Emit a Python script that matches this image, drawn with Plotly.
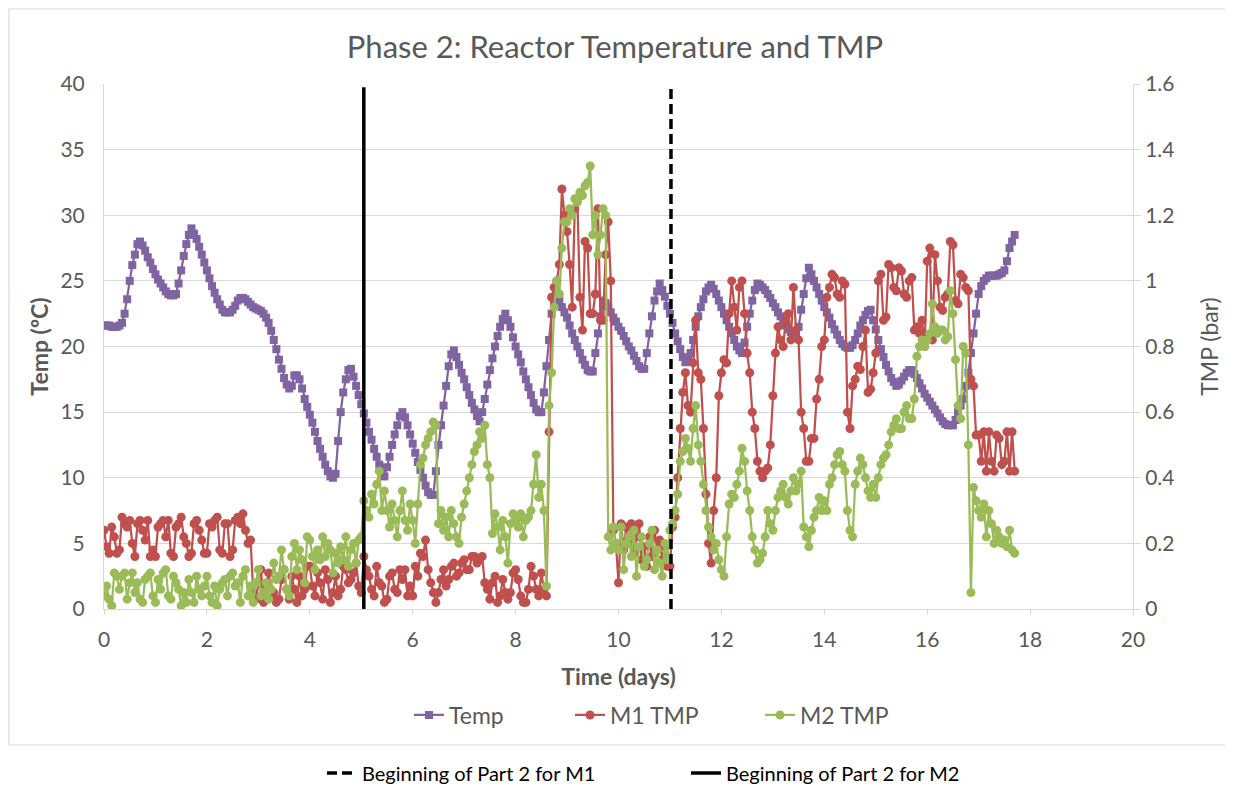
import plotly.graph_objects as go

# ---------------- data ----------------
days = [round(i * 0.05, 2) for i in range(355)]  # 0.00 ... 17.70 days

temp = [
    21.6, 21.6, 21.6, 21.5, 21.5, 21.5, 21.6, 21.8, 22.5, 23.6, 25.0, 26.2, 27.0, 27.8, 28.0, 27.7, 27.3, 26.8, 26.4, 25.9,
    25.5, 25.1, 24.8, 24.5, 24.2, 24.0, 23.9, 23.9, 24.0, 24.8, 25.8, 26.9, 27.8, 28.5, 29.0, 28.6, 28.2, 27.6, 27.0, 26.4,
    25.8, 25.2, 24.6, 24.1, 23.6, 23.2, 22.8, 22.6, 22.6, 22.6, 22.8, 23.1, 23.5, 23.7, 23.7, 23.6, 23.4, 23.2, 23.0, 22.9,
    22.8, 22.7, 22.5, 22.2, 21.8, 21.2, 20.5, 19.8, 19.0, 18.3, 17.6, 17.1, 16.8, 17.0, 17.8, 17.8, 17.5, 16.8, 16.0, 15.4,
    14.8, 14.2, 13.5, 12.8, 12.2, 11.6, 11.0, 10.5, 10.1, 10.0, 10.3, 12.8, 15.0, 16.5, 17.5, 18.2, 18.3, 17.7, 17.0, 16.3,
    15.6, 14.9, 14.2, 13.5, 12.9, 12.2, 11.6, 11.0, 10.4, 10.1, 10.8, 11.6, 12.5, 13.3, 14.0, 14.7, 15.0, 14.6, 14.0, 13.3,
    12.6, 11.9, 11.2, 10.6, 10.0, 9.4, 8.9, 8.7, 8.7, 10.5, 12.5, 14.0, 15.5, 17.0, 18.5, 19.4, 19.7, 19.2, 18.6, 18.0,
    17.5, 16.9, 16.3, 15.7, 15.2, 14.7, 14.3, 15.0, 16.0, 17.1, 18.2, 19.1, 20.0, 20.8, 21.5, 22.1, 22.5, 22.0, 21.5, 20.7,
    20.0, 19.4, 18.8, 18.1, 17.5, 16.9, 16.3, 15.7, 15.2, 15.0, 15.0, 16.5, 18.5, 20.5, 22.5, 23.4, 24.0, 23.5, 23.0, 22.6,
    22.2, 21.6, 21.0, 20.5, 20.0, 19.5, 19.0, 18.6, 18.2, 18.1, 18.1, 19.5, 21.0, 22.3, 23.5, 23.3, 23.0, 22.6, 22.2, 21.9,
    21.5, 21.2, 20.8, 20.4, 20.0, 19.7, 19.3, 18.9, 18.5, 18.3, 18.3, 19.5, 21.0, 22.3, 23.5, 24.2, 24.8, 24.3, 23.8, 23.1,
    22.5, 21.8, 21.0, 20.4, 19.8, 19.2, 18.8, 18.9, 19.5, 20.5, 21.5, 22.3, 23.0, 23.6, 24.2, 24.5, 24.7, 24.4, 24.0, 23.5,
    23.0, 22.5, 22.0, 21.5, 21.0, 20.5, 20.0, 19.7, 19.5, 20.3, 21.5, 22.5, 23.5, 24.3, 24.8, 24.7, 24.5, 24.3, 24.0, 23.7,
    23.3, 23.0, 22.6, 22.3, 21.9, 21.6, 21.3, 21.1, 21.0, 21.1, 21.5, 22.8, 24.0, 25.2, 26.0, 25.5, 25.0, 24.5, 24.0, 23.5,
    23.0, 22.6, 22.2, 21.7, 21.3, 20.9, 20.5, 20.2, 20.0, 19.9, 19.9, 20.1, 20.5, 21.0, 21.6, 22.0, 22.4, 22.7, 22.8, 22.0,
    21.3, 20.5, 19.8, 19.2, 18.6, 18.1, 17.6, 17.3, 17.0, 17.1, 17.4, 17.7, 18.0, 18.2, 18.2, 17.9, 17.6, 17.2, 16.8, 16.4,
    16.1, 15.8, 15.5, 15.2, 14.9, 14.6, 14.3, 14.1, 14.0, 14.0, 14.0, 14.4, 15.0, 15.5, 16.0, 17.0, 18.0, 19.5, 21.0, 22.5,
    24.0, 24.6, 25.0, 25.2, 25.4, 25.4, 25.4, 25.4, 25.5, 25.6, 25.8, 26.5, 27.5, 28.0, 28.5,
]

m1_tmp = [
    0.24, 0.19, 0.17, 0.25, 0.22, 0.17, 0.18, 0.28, 0.26, 0.25, 0.27, 0.20, 0.16, 0.26, 0.27, 0.24, 0.21, 0.27, 0.16, 0.18,
    0.16, 0.25, 0.26, 0.27, 0.22, 0.27, 0.17, 0.16, 0.25, 0.26, 0.28, 0.22, 0.20, 0.16, 0.17, 0.26, 0.27, 0.24, 0.21, 0.17,
    0.17, 0.26, 0.25, 0.27, 0.28, 0.18, 0.17, 0.26, 0.26, 0.16, 0.18, 0.27, 0.28, 0.26, 0.29, 0.24, 0.20, 0.21, 0.05, 0.03,
    0.08, 0.12, 0.02, 0.06, 0.11, 0.04, 0.05, 0.02, 0.03, 0.09, 0.12, 0.06, 0.03, 0.10, 0.06, 0.02, 0.10, 0.04, 0.06, 0.13,
    0.13, 0.07, 0.04, 0.11, 0.08, 0.03, 0.12, 0.09, 0.02, 0.05, 0.10, 0.04, 0.06, 0.13, 0.12, 0.08, 0.09, 0.11, 0.14, 0.07,
    0.05, 0.16, 0.12, 0.10, 0.06, 0.04, 0.13, 0.08, 0.07, 0.02, 0.03, 0.10, 0.11, 0.06, 0.05, 0.12, 0.09, 0.12, 0.04, 0.07,
    0.04, 0.13, 0.10, 0.17, 0.16, 0.21, 0.12, 0.08, 0.05, 0.02, 0.05, 0.09, 0.12, 0.07, 0.09, 0.13, 0.14, 0.10, 0.11, 0.14,
    0.15, 0.12, 0.12, 0.16, 0.16, 0.14, 0.15, 0.16, 0.08, 0.06, 0.03, 0.08, 0.10, 0.02, 0.04, 0.09, 0.05, 0.03, 0.05, 0.11,
    0.12, 0.09, 0.04, 0.02, 0.02, 0.06, 0.13, 0.10, 0.06, 0.04, 0.11, 0.06, 0.04, 0.54, 0.95, 0.98, 1.00, 1.05, 1.28, 1.20,
    1.15, 1.05, 0.92, 1.22, 1.25, 0.95, 0.85, 1.12, 1.10, 0.90, 0.90, 0.96, 1.22, 0.88, 0.88, 1.08, 1.18, 1.00, 0.24, 0.20,
    0.08, 0.26, 0.18, 0.25, 0.20, 0.26, 0.17, 0.22, 0.26, 0.15, 0.19, 0.13, 0.22, 0.16, 0.24, 0.18, 0.21, 0.15, 0.19, 0.13,
    0.13, 0.25, 0.28, 0.40, 0.55, 0.66, 0.72, 0.62, 0.60, 0.75, 0.88, 0.72, 0.70, 0.55, 0.35, 0.20, 0.14, 0.30, 0.40, 0.65,
    0.72, 0.76, 0.75, 0.90, 1.00, 0.92, 0.85, 0.98, 1.00, 0.90, 0.78, 0.72, 0.60, 0.55, 0.45, 0.42, 0.40, 0.42, 0.43, 0.50,
    0.65, 0.78, 0.86, 0.82, 0.80, 0.88, 0.90, 0.82, 0.98, 0.85, 0.82, 0.60, 0.55, 0.45, 0.45, 0.52, 0.52, 0.64, 0.70, 0.80,
    0.82, 0.95, 0.98, 1.02, 1.01, 0.96, 0.95, 1.00, 0.99, 0.60, 0.55, 0.68, 0.70, 0.74, 0.73, 0.80, 0.85, 0.66, 0.67, 0.72,
    0.78, 1.00, 1.02, 0.88, 0.89, 1.05, 1.04, 0.98, 0.97, 1.04, 1.03, 0.96, 0.95, 1.00, 1.01, 0.85, 0.86, 0.84, 0.88, 0.80,
    1.06, 1.10, 0.82, 1.08, 1.00, 0.92, 0.91, 0.95, 0.96, 1.12, 1.11, 0.94, 0.93, 1.02, 1.01, 0.98, 0.97, 0.70, 0.68, 0.53,
    0.53, 0.45, 0.54, 0.42, 0.54, 0.45, 0.42, 0.53, 0.52, 0.44, 0.45, 0.54, 0.42, 0.54, 0.42,
]

m2_tmp = [
    0.04, 0.07, 0.03, 0.01, 0.11, 0.10, 0.06, 0.10, 0.11, 0.03, 0.08, 0.11, 0.05, 0.08, 0.03, 0.02, 0.09, 0.10, 0.11, 0.04,
    0.02, 0.09, 0.06, 0.11, 0.12, 0.04, 0.03, 0.10, 0.08, 0.06, 0.01, 0.05, 0.02, 0.09, 0.05, 0.02, 0.10, 0.06, 0.04, 0.07,
    0.10, 0.04, 0.02, 0.07, 0.01, 0.06, 0.08, 0.09, 0.04, 0.10, 0.11, 0.07, 0.08, 0.02, 0.10, 0.12, 0.04, 0.07, 0.02, 0.08,
    0.12, 0.04, 0.05, 0.08, 0.03, 0.06, 0.14, 0.09, 0.10, 0.18, 0.12, 0.06, 0.04, 0.16, 0.20, 0.12, 0.18, 0.15, 0.08, 0.22,
    0.21, 0.16, 0.12, 0.18, 0.15, 0.22, 0.16, 0.20, 0.18, 0.11, 0.17, 0.14, 0.19, 0.15, 0.22, 0.13, 0.18, 0.20, 0.14, 0.21,
    0.22, 0.33, 0.30, 0.28, 0.35, 0.32, 0.38, 0.42, 0.30, 0.36, 0.30, 0.25, 0.32, 0.27, 0.22, 0.30, 0.36, 0.27, 0.24, 0.32,
    0.27, 0.20, 0.32, 0.44, 0.46, 0.50, 0.52, 0.54, 0.57, 0.56, 0.26, 0.30, 0.24, 0.28, 0.22, 0.30, 0.26, 0.22, 0.20, 0.28,
    0.32, 0.36, 0.40, 0.44, 0.48, 0.50, 0.54, 0.52, 0.56, 0.44, 0.40, 0.23, 0.29, 0.25, 0.18, 0.27, 0.22, 0.14, 0.26, 0.29,
    0.27, 0.25, 0.29, 0.22, 0.27, 0.28, 0.30, 0.38, 0.47, 0.34, 0.38, 0.30, 0.07, 0.62, 0.72, 0.92, 1.00, 0.96, 1.10, 1.18,
    1.18, 1.22, 1.20, 1.25, 1.24, 1.27, 1.26, 1.29, 1.30, 1.35, 1.14, 1.20, 1.08, 1.14, 1.22, 1.20, 0.22, 0.18, 0.25, 0.20,
    0.18, 0.25, 0.12, 0.20, 0.22, 0.16, 0.24, 0.10, 0.19, 0.22, 0.13, 0.15, 0.20, 0.24, 0.12, 0.18, 0.14, 0.10, 0.20, 0.15,
    0.24, 0.26, 0.30, 0.35, 0.45, 0.48, 0.52, 0.49, 0.45, 0.55, 0.62, 0.50, 0.45, 0.38, 0.30, 0.25, 0.22, 0.18, 0.20, 0.15,
    0.12, 0.10, 0.22, 0.32, 0.35, 0.34, 0.38, 0.42, 0.49, 0.45, 0.36, 0.30, 0.22, 0.18, 0.14, 0.15, 0.17, 0.22, 0.30, 0.26,
    0.24, 0.30, 0.34, 0.36, 0.38, 0.34, 0.32, 0.36, 0.40, 0.36, 0.38, 0.42, 0.25, 0.22, 0.19, 0.24, 0.28, 0.30, 0.34, 0.30,
    0.33, 0.30, 0.38, 0.40, 0.44, 0.47, 0.48, 0.44, 0.42, 0.30, 0.24, 0.22, 0.38, 0.42, 0.46, 0.44, 0.40, 0.36, 0.34, 0.38,
    0.34, 0.40, 0.44, 0.46, 0.47, 0.50, 0.54, 0.56, 0.58, 0.55, 0.55, 0.60, 0.62, 0.58, 0.58, 0.64, 0.77, 0.80, 0.82, 0.80,
    0.82, 0.84, 0.93, 0.86, 0.84, 0.85, 0.85, 0.82, 0.83, 0.97, 0.90, 0.76, 0.62, 0.58, 0.80, 0.78, 0.50, 0.05, 0.37, 0.33,
    0.30, 0.28, 0.32, 0.22, 0.30, 0.26, 0.20, 0.24, 0.22, 0.20, 0.21, 0.19, 0.24, 0.18, 0.17,
]

part2_m2_day = 5.05    # solid line
part2_m1_day = 11.02   # dashed line
marker_line_span = [0, 1.59]  # TMP-axis extent of the vertical markers

x_ticks = list(range(0, 21, 2))

# ---------------- style ----------------
PURPLE = "#8064A2"
RED = "#C0504D"
GREEN = "#9BBB59"
GREY_TXT = "#595959"
GRID = "#D9D9D9"
FONT = "Lato, 'Open Sans', sans-serif"

# The page body has an 8px margin, so the figure is drawn 8px smaller and
# shifted; plot area sits at page x 104..1133, y 84..609.
W, H = 1225, 781
ML, MT = 96, 76
PW, PH = 1029, 525


def px_x(page_x):
    return (page_x - 104) / PW


def px_y(page_y):
    return (609 - page_y) / PH


fig = go.Figure()

fig.add_trace(go.Scatter(
    x=days, y=temp, name="Temp", mode="lines+markers",
    line=dict(color=PURPLE, width=2.25),
    marker=dict(symbol="square", size=8, color=PURPLE),
    yaxis="y", legend="legend", showlegend=True,
))
fig.add_trace(go.Scatter(
    x=days, y=m1_tmp, name="M1 TMP", mode="lines+markers",
    line=dict(color=RED, width=2.25),
    marker=dict(symbol="circle", size=9, color=RED),
    yaxis="y2", legend="legend3", showlegend=True,
))
fig.add_trace(go.Scatter(
    x=days, y=m2_tmp, name="M2 TMP", mode="lines+markers",
    line=dict(color=GREEN, width=2.25),
    marker=dict(symbol="circle", size=9, color=GREEN),
    yaxis="y2", legend="legend4", showlegend=True,
))
fig.add_trace(go.Scatter(
    x=[part2_m1_day, part2_m1_day], y=marker_line_span,
    name="Beginning of Part 2 for M1", mode="lines",
    line=dict(color="black", width=3.5, dash="10px,5px"),
    yaxis="y2", legend="legend2", showlegend=True,
))
fig.add_trace(go.Scatter(
    x=[part2_m2_day, part2_m2_day], y=marker_line_span,
    name="Beginning of Part 2 for M2", mode="lines",
    line=dict(color="black", width=3.5),
    yaxis="y2", legend="legend5", showlegend=True,
))

leg_common = dict(orientation="h", xanchor="left", yanchor="middle",
                  bgcolor="rgba(0,0,0,0)", itemwidth=30)
leg1_font = dict(size=23, color=GREY_TXT)
leg2_font = dict(size=20, color="black")

fig.update_layout(
    width=W, height=H, showlegend=True,
    margin=dict(l=ML, r=W - ML - PW, t=MT, b=H - MT - PH, autoexpand=False),
    paper_bgcolor="white", plot_bgcolor="white",
    font=dict(family=FONT, color=GREY_TXT, size=21),
    title=dict(
        text="Phase 2: Reactor Temperature and TMP",
        x=px_x(615), xref="paper", xanchor="center",
        y=1 - 39 / H, yanchor="middle",
        font=dict(size=31, color=GREY_TXT, family=FONT),
    ),
    xaxis=dict(
        range=[0, 20], tickvals=x_ticks, showgrid=False,
        showline=True, linecolor=GRID, linewidth=1,
        ticks="outside", tickcolor=GRID, ticklen=5, ticklabelstandoff=7,
        tickfont=dict(size=21, color=GREY_TXT),
        title=dict(text="<b>Time (days)</b>", standoff=18,
                   font=dict(size=23, color=GREY_TXT)),
        zeroline=False, automargin=False,
    ),
    yaxis=dict(
        range=[0, 40], dtick=5, showgrid=True, gridcolor=GRID, gridwidth=1,
        showline=True, linecolor=GRID, zeroline=False,
        tickfont=dict(size=21, color=GREY_TXT),
        ticks="outside", tickcolor="rgba(0,0,0,0)", ticklen=14,
        title=dict(text="<b>Temp (ºC)</b>", standoff=5,
                   font=dict(size=23, color=GREY_TXT)),
        automargin=False,
    ),
    yaxis2=dict(
        range=[0, 1.6], dtick=0.2, overlaying="y", side="right",
        showgrid=False, showline=True, linecolor=GRID, zeroline=False,
        ticks="outside", tickcolor=GRID, ticklen=7,
        tickfont=dict(size=21, color=GREY_TXT),
        title=dict(text="TMP (bar)", standoff=28,
                   font=dict(size=23, color=GREY_TXT)),
        automargin=False,
    ),
    legend=dict(x=px_x(409), y=px_y(715), font=leg1_font, **leg_common),
    legend3=dict(x=px_x(570), y=px_y(715), font=leg1_font, **leg_common),
    legend4=dict(x=px_x(760), y=px_y(715), font=leg1_font, **leg_common),
    legend2=dict(x=px_x(322), y=px_y(773), font=leg2_font, **leg_common),
    legend5=dict(x=px_x(686), y=px_y(773), font=leg2_font, **leg_common),
    shapes=[dict(
        type="rect", xref="paper", yref="paper",
        x0=px_x(9), x1=px_x(1230),
        y0=px_y(745), y1=px_y(9),
        line=dict(color=GRID, width=1.2), fillcolor="rgba(0,0,0,0)", layer="below",
    )],
)

fig.write_html("out.html")
